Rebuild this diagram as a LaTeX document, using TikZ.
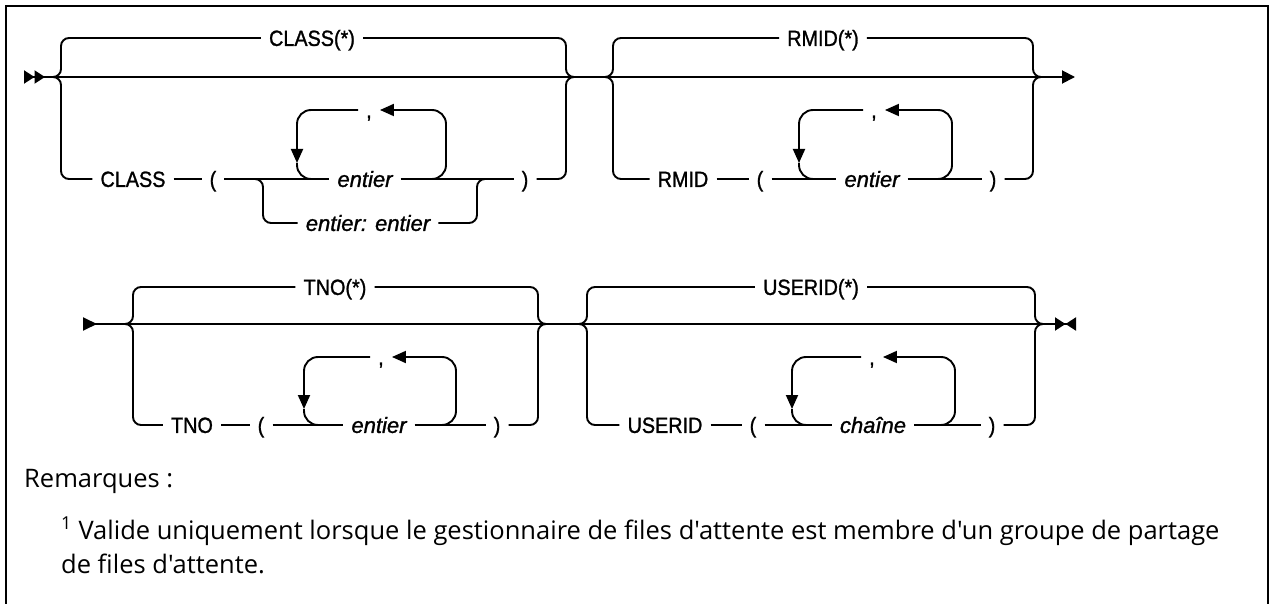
\documentclass[tikz,border=0pt]{standalone}
\usepackage{fontspec}
\setmainfont{Liberation Sans}
\newfontfamily\railfont[FakeBold=1.2, FakeStretch=0.9, ItalicFeatures={FakeStretch=1}]{Liberation Sans}
\newfontfamily\notefont{Open Sans}
\usetikzlibrary{arrows.meta}

\tikzset{
  rail/.style={line width=1.9pt},
  brace/.style={rail, rounded corners=8pt},
  loopline/.style={rail, rounded corners=14pt},
  loophead/.style={-{Triangle[length=14pt,width=12pt]}},
  lbl/.style={inner xsep=8pt, inner ysep=0pt, text height=15.8pt, text depth=0pt,
    font=\railfont\fontsize{22}{22}\selectfont},
  note/.style={anchor=base west, inner sep=0pt, font=\notefont\fontsize{25.5}{25.5}\selectfont},
}

\begin{document}
\begin{tikzpicture}[x=1pt, y=-1pt]
    \useasboundingbox (0,0) rectangle (1274,604);
    \fill[white] (0,0) rectangle (1274,604);
    \draw[line width=2.2pt] (6,604) -- (6,6) -- (1268,6) -- (1268,604);

    % first line: CLASS and RMID
    \coordinate (in1) at (24,77);
    \coordinate (out1) at (1075,77);
    \draw[rail, {Triangle[reversed,length=10.5pt,width=13pt]Triangle[reversed,length=10.5pt,width=13pt]}-{Triangle[length=13pt,width=13pt]}] (in1) -- (out1);

    \node[lbl] (classall) at (312,38) {CLASS(*)};
    \node[lbl] (class) at (133,179) {CLASS};
    \node[lbl] (lpa) at (213,179) {(};
    \node[lbl] (inta) at (365,179) {\itshape entier};
    \node[lbl] (cma) at (369,110) {,};
    \node[lbl] (rpa) at (525,179) {)};
    \node[lbl] (range) at (368,223) {\itshape entier: entier};

    \coordinate (ta) at (53,77);  \coordinate (va) at (61,77);
    \coordinate (vb) at (566,77); \coordinate (tb) at (574,77);
    \draw[brace] (ta) -| (va |- classall) -- (classall);
    \draw[brace] (classall) -- (vb |- classall) |- (tb);
    \draw[brace] (ta) -| (va |- class) -- (class);
    \draw[rail] (class) -- (lpa);
    \draw[rail] (lpa) -- (inta);
    \draw[rail] (inta) -- (rpa);
    \draw[brace] (rpa) -- (vb |- rpa) |- (tb);

    \coordinate (ra) at (255,179); \coordinate (rb) at (263,179);
    \coordinate (rc) at (477,179); \coordinate (rd) at (485,179);
    \draw[brace] (ra) -| (rb |- range) -- (range);
    \draw[brace] (range) -- (rc |- range) |- (rd);

    \coordinate (la) at (297,163); \coordinate (lb) at (313,179);
    \coordinate (lc) at (430,179); \coordinate (ld) at (446,110);
    \draw[loopline, loophead] (cma) -| (la);
    \draw[loopline] (la) |- (lb);
    \draw[loopline, loophead] (lc) -| (ld) -- (cma);

    \node[lbl] (rmidall) at (823,38) {RMID(*)};
    \node[lbl] (rmid) at (683,179) {RMID};
    \node[lbl] (lpb) at (760,179) {(};
    \node[lbl] (intb) at (872,179) {\itshape entier};
    \node[lbl] (cmb) at (874,110) {,};
    \node[lbl] (rpb) at (993,179) {)};

    \coordinate (tc) at (605,77);  \coordinate (vc) at (613,77);
    \coordinate (vd) at (1033,77); \coordinate (td) at (1041,77);
    \draw[brace] (tc) -| (vc |- rmidall) -- (rmidall);
    \draw[brace] (rmidall) -- (vd |- rmidall) |- (td);
    \draw[brace] (tc) -| (vc |- rmid) -- (rmid);
    \draw[rail] (rmid) -- (lpb);
    \draw[rail] (lpb) -- (intb);
    \draw[rail] (intb) -- (rpb);
    \draw[brace] (rpb) -- (vd |- rpb) |- (td);

    \coordinate (lbe) at (799,163); \coordinate (lbf) at (815,179);
    \coordinate (lbg) at (936,179); \coordinate (lbh) at (952,110);
    \draw[loopline, loophead] (cmb) -| (lbe);
    \draw[loopline] (lbe) |- (lbf);
    \draw[loopline, loophead] (lbg) -| (lbh) -- (cmb);

    % second line: TNO and USERID
    \coordinate (in2) at (83,324);
    \coordinate (out2) at (1076,324);
    \draw[rail, {Triangle[reversed,length=14pt,width=13pt]}-{Triangle[length=10.5pt,width=13pt]Triangle[reversed,length=10.5pt,width=13pt]}] (in2) -- (out2);

    \node[lbl] (tnoall) at (335,287) {TNO(*)};
    \node[lbl] (tno) at (192,425) {TNO};
    \node[lbl] (lpc) at (261,425) {(};
    \node[lbl] (intc) at (379,425) {\itshape entier};
    \node[lbl] (cmc) at (381,357) {,};
    \node[lbl] (rpc) at (497,425) {)};

    \coordinate (te) at (125,324); \coordinate (ve) at (133,324);
    \coordinate (vf) at (538,324); \coordinate (tf) at (546,324);
    \draw[brace] (te) -| (ve |- tnoall) -- (tnoall);
    \draw[brace] (tnoall) -- (vf |- tnoall) |- (tf);
    \draw[brace] (te) -| (ve |- tno) -- (tno);
    \draw[rail] (tno) -- (lpc);
    \draw[rail] (lpc) -- (intc);
    \draw[rail] (intc) -- (rpc);
    \draw[brace] (rpc) -- (vf |- rpc) |- (tf);

    \coordinate (lce) at (304,409); \coordinate (lcf) at (320,425);
    \coordinate (lcg) at (440,425); \coordinate (lch) at (456,357);
    \draw[loopline, loophead] (cmc) -| (lce);
    \draw[loopline] (lce) |- (lcf);
    \draw[loopline, loophead] (lcg) -| (lch) -- (cmc);

    \node[lbl] (userall) at (811,287) {USERID(*)};
    \node[lbl] (user) at (665,425) {USERID};
    \node[lbl] (lpd) at (753,425) {(};
    \node[lbl] (strd) at (873,425) {\itshape chaîne};
    \node[lbl] (cmd) at (872,357) {,};
    \node[lbl] (rpd) at (992,425) {)};

    \coordinate (tg) at (579,324);  \coordinate (vg) at (587,324);
    \coordinate (vh) at (1035,324); \coordinate (th) at (1043,324);
    \draw[brace] (tg) -| (vg |- userall) -- (userall);
    \draw[brace] (userall) -- (vh |- userall) |- (th);
    \draw[brace] (tg) -| (vg |- user) -- (user);
    \draw[rail] (user) -- (lpd);
    \draw[rail] (lpd) -- (strd);
    \draw[rail] (strd) -- (rpd);
    \draw[brace] (rpd) -- (vh |- rpd) |- (th);

    \coordinate (lde) at (792,409); \coordinate (ldf) at (808,425);
    \coordinate (ldg) at (939,425); \coordinate (ldh) at (955,357);
    \draw[loopline, loophead] (cmd) -| (lde);
    \draw[loopline] (lde) |- (ldf);
    \draw[loopline, loophead] (ldg) -| (ldh) -- (cmd);

    % notes
    \node[note] (rem) at (24,487) {Remarques :};
    \node[note] (fna) at (61,539) {\textsuperscript{1} Valide uniquement lorsque le gestionnaire de files d'attente est membre d'un groupe de partage};
    \node[note] (fnb) at (61,573) {de files d'attente.};
\end{tikzpicture}
\end{document}
